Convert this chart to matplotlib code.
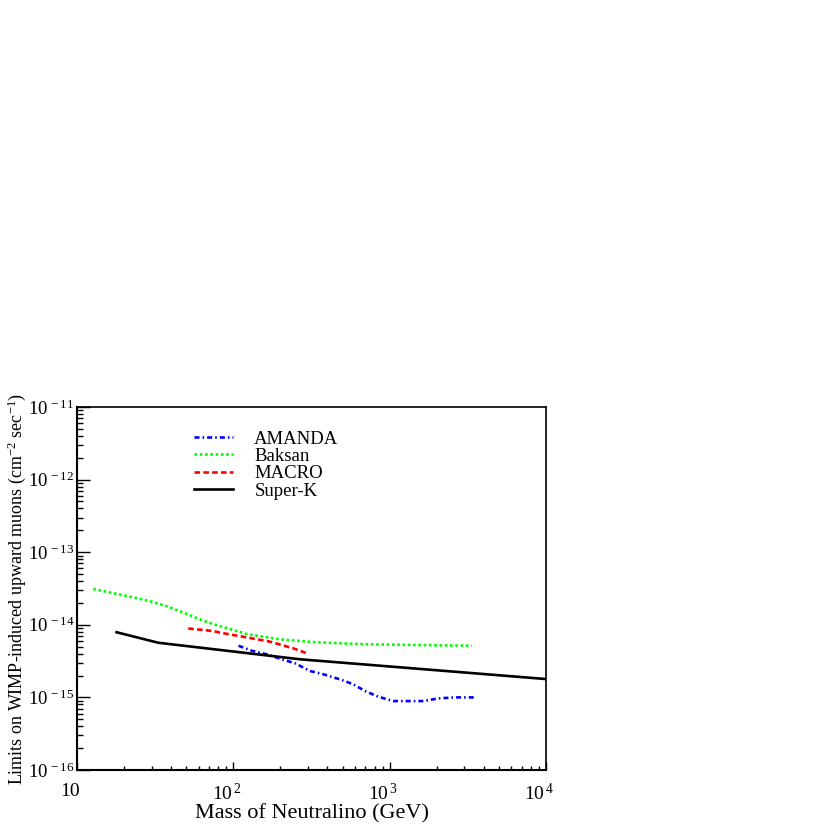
import matplotlib
matplotlib.use("Agg")
import matplotlib.pyplot as plt
import matplotlib.transforms as mtransforms
from matplotlib.ticker import LogLocator, FuncFormatter, NullFormatter
import numpy as np

plt.rcParams['font.family'] = ['Liberation Serif', 'DejaVu Serif']
plt.rcParams['mathtext.fontset'] = 'custom'
plt.rcParams['mathtext.rm'] = 'Liberation Serif'
plt.rcParams['mathtext.it'] = 'Liberation Serif:italic'
plt.rcParams['mathtext.default'] = 'regular'

# data (mass in GeV, flux limit in cm^-2 s^-1)
amanda_mass = [108, 131, 164, 204, 248, 310, 377, 482, 587, 697, 848, 1057, 1352, 1645, 2050, 2620, 3600]
amanda_flux = [5.15e-15, 4.4e-15, 3.92e-15, 3.35e-15, 2.95e-15, 2.31e-15, 2.08e-15, 1.77e-15,
               1.51e-15, 1.22e-15, 1.02e-15, 8.9e-16, 8.9e-16, 8.9e-16, 9.7e-16, 1.0e-15, 1.0e-15]

baksan_mass = [12.7, 18.4, 23.5, 30.1, 38.4, 49.1, 62.8, 74.5, 122, 199, 342, 713, 3350]
baksan_flux = [3.11e-14, 2.63e-14, 2.36e-14, 2.08e-14, 1.77e-14, 1.44e-14, 1.16e-14, 1.02e-14,
               7.46e-15, 6.3e-15, 5.74e-15, 5.38e-15, 5.15e-15]

macro_mass = [51.5, 74.5, 82.2, 122, 172, 242, 295]
macro_flux = [8.9e-15, 8.2e-15, 7.8e-15, 6.7e-15, 5.85e-15, 4.74e-15, 4.05e-15]

superk_mass = [17.9, 33.1, 267, 10000]
superk_flux = [7.9e-15, 5.66e-15, 3.35e-15, 1.79e-15]

fig = plt.figure(figsize=(8.3, 8.3), dpi=100)
ax = fig.add_axes([77/830, 60/830, 469/830, 363/830])

ax.plot(amanda_mass, amanda_flux, color=(0, 0, 1), lw=1.9, ls=(0, (1.9, 1.15, 0.6, 1.15)), label="AMANDA")
ax.plot(baksan_mass, baksan_flux, color=(0, 1, 0), lw=1.9, ls=(0, (1.0, 1.0)), label="Baksan")
ax.plot(macro_mass, macro_flux, color=(1, 0, 0), lw=1.9, ls=(0, (2.1, 1.25)), label="MACRO")
ax.plot(superk_mass, superk_flux, color="black", lw=1.9, label="Super-K")

ax.set_xscale("log")
ax.set_yscale("log")
ax.set_xlim(10, 1e4)
ax.set_ylim(1e-16, 1e-11)

def pow_fmt(v, pos):
    e = int(round(np.log10(v)))
    if e == 1:
        return "10"
    return r"$10^{\,%d}$" % e

ax.xaxis.set_major_locator(LogLocator(base=10, numticks=10))
ax.yaxis.set_major_locator(LogLocator(base=10, numticks=10))
ax.xaxis.set_minor_locator(LogLocator(base=10, subs=np.arange(2, 10), numticks=20))
ax.yaxis.set_minor_locator(LogLocator(base=10, subs=np.arange(2, 10), numticks=20))
ax.xaxis.set_major_formatter(FuncFormatter(pow_fmt))
ax.yaxis.set_major_formatter(FuncFormatter(pow_fmt))
ax.xaxis.set_minor_formatter(NullFormatter())
ax.yaxis.set_minor_formatter(NullFormatter())

ax.tick_params(axis="both", which="both", direction="in", top=False, right=False, width=1.0)
ax.tick_params(axis="x", which="major", length=6, pad=9, labelsize=14)
ax.tick_params(axis="x", which="minor", length=3.2)
ax.tick_params(axis="y", which="major", length=9.5, pad=2, labelsize=13.5)
ax.tick_params(axis="y", which="minor", length=4.5)

shift = mtransforms.ScaledTranslation(-7/100, 0, fig.dpi_scale_trans)
for lab in ax.get_xticklabels():
    lab.set_transform(lab.get_transform() + shift)
for lab in ax.get_yticklabels():
    lab.set_verticalalignment("center_baseline")

for side in ["left", "bottom"]:
    ax.spines[side].set_linewidth(1.5)
for side in ["top", "right"]:
    ax.spines[side].set_linewidth(1.2)

ax.set_xlabel("Mass of Neutralino (GeV)", fontsize=16, labelpad=0)
ax.set_ylabel(r"Limits on WIMP-induced upward muons (cm$^{-2}$ sec$^{-1}$)", fontsize=13)
ax.yaxis.set_label_coords(-0.104, 0.5)

ax.legend(loc="upper left", bbox_to_anchor=(0.25, 0.935), frameon=False, fontsize=13.5,
          handlelength=2.05, handletextpad=1.15, labelspacing=0.01, borderpad=0, borderaxespad=0)

fig.savefig("out.png", dpi=100)
